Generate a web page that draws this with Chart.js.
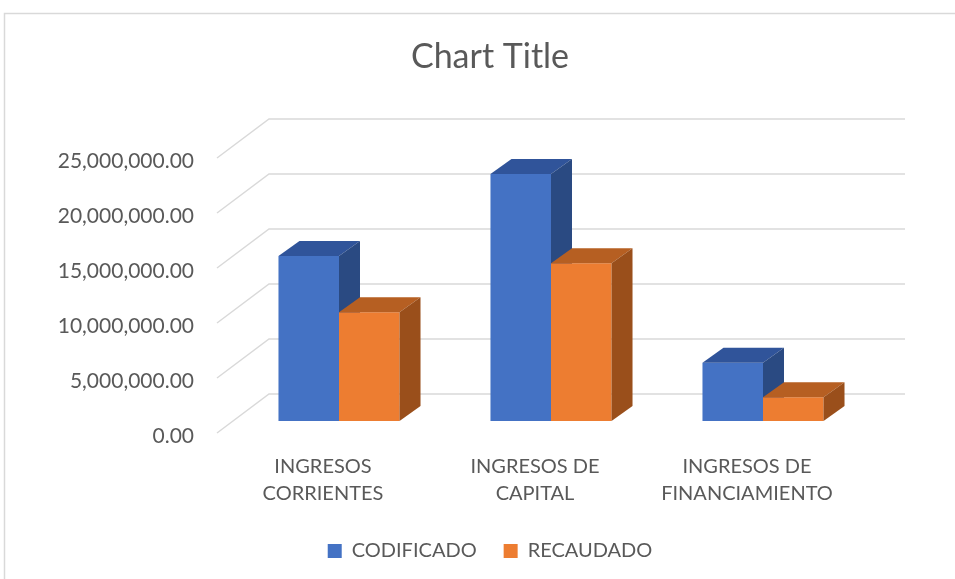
<!DOCTYPE html>
<html>
<head>
<meta charset="utf-8">
<title>Chart Title</title>
<script src="https://cdn.jsdelivr.net/npm/chart.js@4.4.1/dist/chart.umd.min.js"></script>
<style>
  html, body { margin: 0; padding: 0; background: #fff; }
  canvas { display: block; }
</style>
</head>
<body>
<canvas id="grafico" width="955" height="579"></canvas>
<script>
// Datos
const categorias = [['INGRESOS', 'CORRIENTES'], ['INGRESOS DE', 'CAPITAL'], ['INGRESOS DE', 'FINANCIAMIENTO']];
const codificado = [15000000, 22450000, 5300000];
const recaudado = [9880000, 14340000, 2150000];
const ticksY = [0, 5000000, 10000000, 15000000, 20000000, 25000000];

// Efecto 3D: desplazamiento de la pared del fondo y de las barras
const FONDO = { dx: 52, dy: 39 };
const BARRA = { x: 16, y: 12, dx: 21, dy: 15 };

const caras = [
    { frente: '#4472c4', arriba: '#30549a', lado: '#2a4a82' },
    { frente: '#ed7d31', arriba: '#b65f22', lado: '#9a4f1b' }
];

const gris = '#595959';
const fuente = 'Lato, "Open Sans", sans-serif';

const efecto3d = {
    id: 'efecto3d',
    beforeDraw(chart) {
        // marco del gráfico
        const ctx = chart.ctx;
        ctx.save();
        ctx.strokeStyle = '#d9d9d9';
        ctx.lineWidth = 1.5;
        ctx.strokeRect(4.5, 13.5, 1200, 1200);
        ctx.restore();
    },
    beforeDatasetsDraw(chart) {
        const { ctx, chartArea: a } = chart;
        const y = chart.scales.y;

        // líneas de la pared del fondo
        ctx.save();
        ctx.strokeStyle = '#d9d9d9';
        ctx.lineWidth = 1.5;
        y.ticks.forEach(t => {
            const py = y.getPixelForValue(t.value);
            ctx.beginPath();
            ctx.moveTo(a.left, py);
            ctx.lineTo(a.left + FONDO.dx, py - FONDO.dy);
            ctx.lineTo(a.right + FONDO.dx, py - FONDO.dy);
            ctx.stroke();
        });
        ctx.restore();

        // barras: frente con el elemento de Chart.js, luego tapa y lado
        ctx.save();
        ctx.translate(BARRA.x, -BARRA.y);
        const metas = [chart.getDatasetMeta(0), chart.getDatasetMeta(1)];
        categorias.forEach((c, i) => {
            metas.forEach((meta, d) => {
                const bar = meta.data[i];
                const col = caras[d];
                bar.draw(ctx);
                const p = bar.getProps(['x', 'y', 'base', 'width']);
                const l = p.x - p.width / 2;
                const r = p.x + p.width / 2;

                ctx.fillStyle = col.arriba;
                ctx.beginPath();
                ctx.moveTo(l, p.y);
                ctx.lineTo(r, p.y);
                ctx.lineTo(r + BARRA.dx, p.y - BARRA.dy);
                ctx.lineTo(l + BARRA.dx, p.y - BARRA.dy);
                ctx.closePath();
                ctx.fill();

                ctx.fillStyle = col.lado;
                ctx.beginPath();
                ctx.moveTo(r, p.y);
                ctx.lineTo(r + BARRA.dx, p.y - BARRA.dy);
                ctx.lineTo(r + BARRA.dx, p.base - BARRA.dy);
                ctx.lineTo(r, p.base);
                ctx.closePath();
                ctx.fill();
            });
        });
        ctx.restore();
        return false;
    }
};

new Chart(document.getElementById('grafico'), {
    type: 'bar',
    data: {
        labels: categorias,
        datasets: [{
            label: 'CODIFICADO',
            data: codificado,
            backgroundColor: caras[0].frente
        }, {
            label: 'RECAUDADO',
            data: recaudado,
            backgroundColor: caras[1].frente
        }]
    },
    options: {
        responsive: false,
        animation: false,
        categoryPercentage: 0.571,
        barPercentage: 1,
        layout: { padding: { left: 25, right: 0, top: 0, bottom: 8 } },
        plugins: {
            title: {
                display: true,
                text: 'Chart Title',
                color: gris,
                font: { family: fuente, size: 34, weight: 'normal', lineHeight: 1.2 },
                padding: { top: 37, bottom: 80.2 }
            },
            legend: {
                position: 'bottom',
                labels: {
                    color: gris,
                    boxWidth: 14,
                    boxHeight: 14,
                    padding: 27,
                    font: { family: fuente, size: 20 }
                }
            },
            tooltip: { enabled: false }
        },
        scales: {
            x: {
                grid: { display: false },
                border: { display: false },
                ticks: {
                    color: gris,
                    padding: 12,
                    maxRotation: 0,
                    font: { family: fuente, size: 20, lineHeight: 1.35 }
                },
                afterFit(s) { s.height = 81; }
            },
            y: {
                min: 0,
                max: 25000000,
                grid: { display: false },
                border: { display: false },
                afterBuildTicks(s) { s.ticks = ticksY.map(v => ({ value: v })); },
                afterFit(s) { s.width = 192; },
                ticks: {
                    color: gris,
                    padding: 15,
                    labelOffset: 3,
                    font: { family: fuente, size: 21 },
                    callback: v => v.toLocaleString('en-US', { minimumFractionDigits: 2, maximumFractionDigits: 2 })
                }
            },
            // margen derecho vacío, deja sitio a la profundidad del fondo
            derecha: {
                position: 'right',
                grid: { display: false },
                border: { display: false },
                ticks: { display: false },
                afterFit(s) { s.width = 102; }
            }
        }
    },
    plugins: [efecto3d]
});
</script>
</body>
</html>
